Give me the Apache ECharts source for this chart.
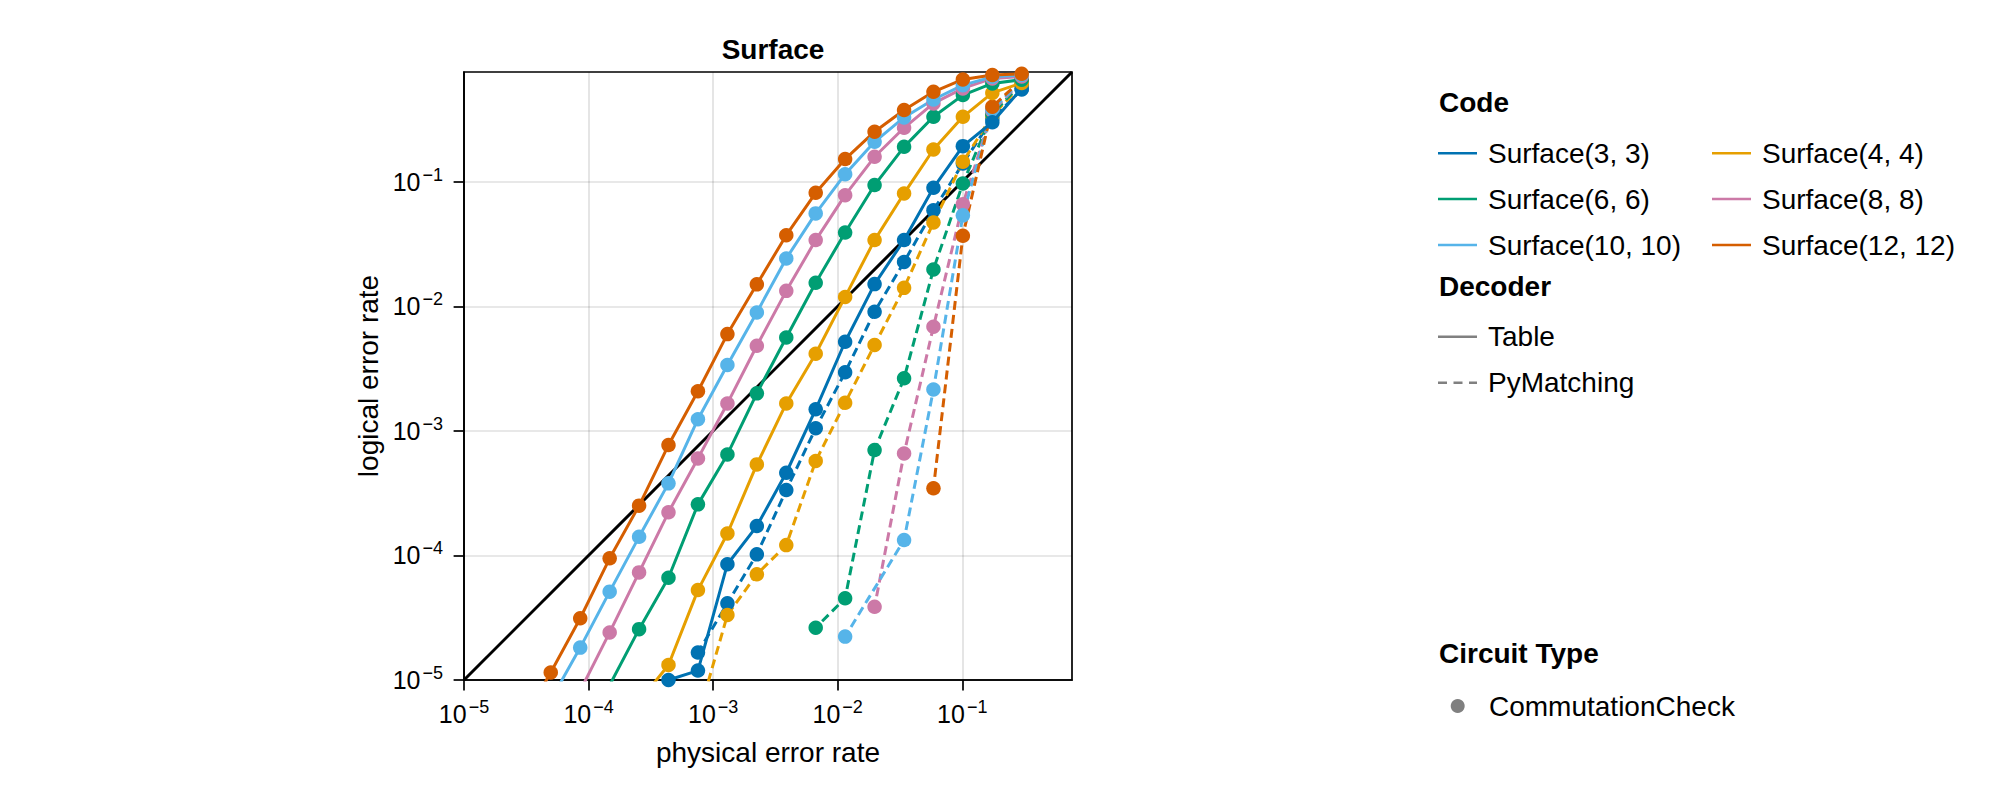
<!DOCTYPE html>
<html>
<head>
<meta charset="utf-8">
<script src="https://cdn.jsdelivr.net/npm/echarts@6/dist/echarts.min.js"></script>
<style>
html,body{margin:0;padding:0;background:#ffffff;}
#chart{width:2000px;height:800px;}
</style>
</head>
<body>
<div id="chart"></div>
<script>
// ---------------- data ----------------
const physicalErrorRate = [0.300, 0.1743, 0.1011, 0.0587, 0.0341, 0.01977, 0.01147, 0.006659, 0.003865, 0.002243, 0.001302, 0.000755, 0.000438, 0.0002544, 0.0001477, 0.0000857, 0.0000497, 0.0000288];

const codeNames = ['Surface(3, 3)', 'Surface(4, 4)', 'Surface(6, 6)', 'Surface(8, 8)', 'Surface(10, 10)', 'Surface(12, 12)'];
const decoderNames = ['Table', 'PyMatching'];
const circuitTypes = ['CommutationCheck'];
const axisTickValues = [1e-5, 1e-4, 1e-3, 1e-2, 1e-1];
const diagonal = [1e-5, 0.76];

// Table decoder (solid)
const table33   = [0.56, 0.30, 0.193, 0.0893, 0.0340, 0.01507, 0.00519, 0.00149, 0.000461, 0.000172, 0.000085, 0.0000119, 0.0000100, 0.0000070, null, null, null, null];
const table44   = [0.62, 0.516, 0.332, 0.1815, 0.0805, 0.0340, 0.01189, 0.00416, 0.00166, 0.000538, 0.000150, 0.0000527, 0.0000132, 0.0000067, null, null, null, null];
const table66   = [0.66, 0.615, 0.496, 0.332, 0.1906, 0.094, 0.0391, 0.01545, 0.00562, 0.00200, 0.000647, 0.000257, 0.0000662, 0.0000256, 0.0000091, null, null, null];
const table88   = [0.70, 0.675, 0.561, 0.425, 0.271, 0.1585, 0.078, 0.0340, 0.0133, 0.00482, 0.00166, 0.000601, 0.000222, 0.0000731, 0.0000241, 0.0000082, null, null];
const table1010 = [0.72, 0.695, 0.596, 0.457, 0.328, 0.209, 0.115, 0.0557, 0.0242, 0.00893, 0.00338, 0.00124, 0.000379, 0.000141, 0.0000512, 0.0000182, 0.0000069, null];
const table1212 = [0.735, 0.718, 0.662, 0.527, 0.376, 0.252, 0.152, 0.0815, 0.0372, 0.0150, 0.00598, 0.00208, 0.000769, 0.000251, 0.0000948, 0.0000313, 0.0000115, 0.0000044];

// PyMatching decoder (dashed)
const pym33   = [0.55, 0.32, 0.14, 0.0591, 0.0227, 0.00904, 0.00295, 0.00105, 0.000335, 0.000102, 0.0000413, 0.0000166, null, null, null, null, null, null];
const pym44   = [0.60, 0.34, 0.1445, 0.0471, 0.01406, 0.00489, 0.00168, 0.000573, 0.000121, 0.0000705, 0.0000333, 0.0000050, null, null, null, null, null, null];
const pym66   = [0.62, 0.35, 0.0969, 0.01977, 0.00264, 0.000702, 0.0000453, 0.0000263, null, null, null, null, null, null, null, null, null, null];
const pym88   = [0.64, 0.37, 0.066, 0.00686, 0.000659, 0.0000387, null, null, null, null, null, null, null, null, null, null, null, null];
const pym1010 = [0.65, 0.38, 0.0537, 0.00215, 0.000133, null, 0.0000223, null, null, null, null, null, null, null, null, null, null, null];
const pym1212 = [0.66, 0.40, 0.0368, 0.000346, null, null, null, null, null, null, null, null, null, null, null, null, null, null];

const tableData = [table33, table44, table66, table88, table1010, table1212];
const pymData = [pym33, pym44, pym66, pym88, pym1010, pym1212];

// ---------------- style ----------------
const colors = ['#0072B2', '#E69F00', '#009E73', '#CC79A7', '#56B4E9', '#D55E00'];
const FONT = '"Liberation Sans", "TeX Gyre Heros", Arial, Helvetica, sans-serif';
const LW = 3;
const DASH = [9, 5];
const MS = 14.5;

function pairs(ys) {
  const out = [];
  ys.forEach((y, i) => { if (y != null) out.push([physicalErrorRate[i], y]); });
  return out;
}

function logLabel(v) {
  const l = Math.log10(v);
  const e = Math.round(l);
  if (Math.abs(l - e) > 0.01) return '';
  return '{b|10}{s|\u2212' + Math.abs(e) + '}';
}
const labelRich = {
  b: { fontSize: 25, lineHeight: 32, fontFamily: FONT, color: '#000' },
  s: { fontSize: 18, lineHeight: 22, verticalAlign: 'top', fontFamily: FONT, color: '#000', padding: [0, 0, 0, 2] }
};

const series = [];
series.push({
  name: 'y = x', type: 'line', data: [[diagonal[0], diagonal[0]], [diagonal[1], diagonal[1]]],
  symbol: 'none', lineStyle: { color: '#000', width: LW }, z: 1, silent: true, animation: false
});
codeNames.forEach((name, i) => {
  series.push({
    name: name + ' ' + decoderNames[1], type: 'line', data: pairs(pymData[i]),
    symbol: 'circle', symbolSize: MS, showSymbol: true,
    lineStyle: { color: colors[i], width: LW, type: DASH },
    itemStyle: { color: colors[i], borderWidth: 0 },
    emphasis: { disabled: true }, z: 2, animation: false, clip: true
  });
});
codeNames.forEach((name, i) => {
  series.push({
    name: name + ' ' + decoderNames[0], type: 'line', data: pairs(tableData[i]),
    symbol: 'circle', symbolSize: MS, showSymbol: true,
    lineStyle: { color: colors[i], width: LW, type: 'solid' },
    itemStyle: { color: colors[i], borderWidth: 0 },
    emphasis: { disabled: true }, z: 3, animation: false, clip: true
  });
});

// ---------------- legend (graphic) ----------------
const graphic = [];
function txt(text, x, y, bold) {
  graphic.push({ type: 'text', silent: true, style: {
    text: text, x: x, y: y, fill: '#000', fontSize: 28, fontWeight: bold ? 'bold' : 'normal',
    fontFamily: FONT, textAlign: 'left', textVerticalAlign: 'middle' } });
}
function seg(x1, y, len, color, dash) {
  graphic.push({ type: 'line', silent: true, shape: { x1: x1, y1: y, x2: x1 + len, y2: y },
    style: { stroke: color, lineWidth: 2.6, lineDash: dash || null } });
}
txt('Code', 1439, 102.7, true);
const rowY = [153.3, 199, 245];
const colX = [1438, 1712];
codeNames.forEach((name, j) => {
  const r = Math.floor(j / 2), c = j % 2;
  seg(colX[c], rowY[r], 39, colors[j]);
  txt(name, colX[c] + 50, rowY[r], false);
});
txt('Decoder', 1439, 286.7, true);
seg(1438, 336.7, 39, '#808080');
txt(decoderNames[0], 1488, 336.7, false);
seg(1438, 382.7, 39, '#808080', [9, 6.5]);
txt(decoderNames[1], 1488, 382.7, false);
txt('Circuit Type', 1439, 653.3, true);
graphic.push({ type: 'circle', silent: true, shape: { cx: 1457.7, cy: 706, r: 7 }, style: { fill: '#808080' } });
txt(circuitTypes[0], 1489, 706, false);

// ---------------- axes ----------------
function logAxis(isX) {
  return {
    type: 'log', logBase: 10, min: 1e-5, max: 0.76,
    axisLine: { show: true, onZero: false, lineStyle: { color: '#000', width: 1.7 } },
    axisTick: { show: true, inside: false, length: 10.4, lineStyle: { color: '#000', width: 1.7 }, customValues: axisTickValues },
    axisLabel: { show: true, margin: isX ? 18 : 21, formatter: logLabel, rich: labelRich, customValues: axisTickValues,
      showMinLabel: true, showMaxLabel: true, hideOverlap: false },
    splitLine: { show: true, lineStyle: { color: 'rgba(0,0,0,0.12)', width: 1.7 } },
    minorTick: { show: false }, minorSplitLine: { show: false },
    name: isX ? 'physical error rate' : 'logical error rate',
    nameLocation: 'middle', nameGap: isX ? 58 : 82,
    nameTextStyle: { fontSize: 28, color: '#000', fontFamily: FONT }
  };
}

const option = {
  backgroundColor: '#ffffff',
  animation: false,
  textStyle: { fontFamily: FONT },
  title: { text: 'Surface', left: 768, top: 30, textAlign: 'center',
    textStyle: { fontSize: 28, fontWeight: 'bold', color: '#000', fontFamily: FONT } },
  grid: { left: 464, top: 72, width: 608, height: 608, show: true, borderColor: '#000', borderWidth: 1.7,
    backgroundColor: 'transparent', containLabel: false, outerBoundsMode: 'none' },
  xAxis: logAxis(true),
  yAxis: logAxis(false),
  series: series,
  graphic: graphic
};

const chart = echarts.init(document.getElementById('chart'), null, { renderer: 'svg', width: 2000, height: 800 });
chart.setOption(option);
</script>
</body>
</html>
